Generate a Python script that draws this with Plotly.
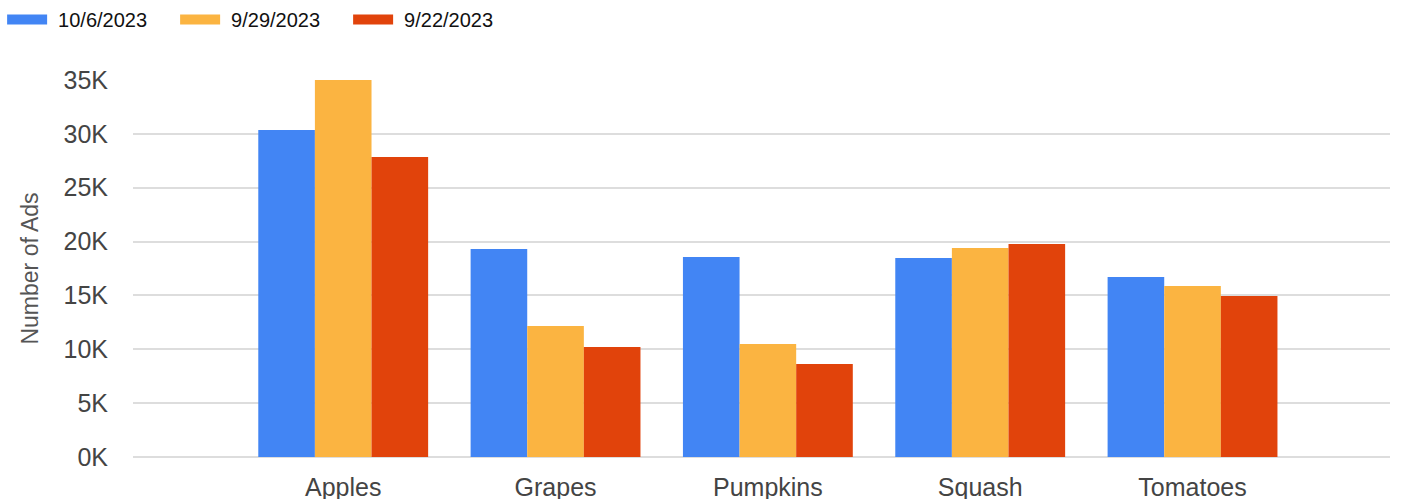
import plotly.graph_objects as go

categories = ["Apples", "Grapes", "Pumpkins", "Squash", "Tomatoes"]
series_names = ["10/6/2023", "9/29/2023", "9/22/2023"]
vals_oct6 = [30360, 19310, 18570, 18480, 16710]
vals_sep29 = [35000, 12160, 10490, 19410, 15880]
vals_sep22 = [27850, 10210, 8630, 19780, 14950]
colors = ["#4285F4", "#FBB441", "#E1430B"]
y_tickvals = [0, 5000, 10000, 15000, 20000, 25000, 30000, 35000]
y_ticktext = ["0K", "5K", "10K", "15K", "20K", "25K", "30K", "35K"]

fig = go.Figure()
for name, vals, col in zip(series_names, [vals_oct6, vals_sep29, vals_sep22], colors):
    fig.add_trace(go.Bar(x=categories, y=vals, name=name, marker=dict(color=col, line=dict(width=0)),
                         showlegend=False))
    # legend swatch (wide rectangle)
    fig.add_trace(go.Scatter(x=[None], y=[None], mode="lines", name=name,
                             line=dict(color=col, width=18, dash="40px,40px")))

fig.update_layout(
    width=1413, height=499,
    margin=dict(l=133, r=23, t=80, b=42),
    plot_bgcolor="white", paper_bgcolor="white",
    barmode="group", bargap=0.2, bargroupgap=0,
    font=dict(family="Liberation Sans, Arial, sans-serif", color="#444"),
    legend=dict(orientation="h", xref="container", yref="container", x=0.0015, y=1.0,
                xanchor="left", yanchor="top", font=dict(size=20, color="#111"),
                itemwidth=46, entrywidth=112, entrywidthmode="pixels",
                traceorder="normal", bgcolor="rgba(0,0,0,0)"),
    xaxis=dict(range=[-0.99, 4.93], showgrid=False, showline=False, zeroline=False,
               tickfont=dict(size=25, color="#444"), ticklabelstandoff=13, automargin=False),
    yaxis=dict(range=[0, 35000], tickvals=y_tickvals, ticktext=y_ticktext,
               showgrid=True, gridcolor="#DDDDDD", gridwidth=2,
               zeroline=True, zerolinecolor="#DDDDDD", zerolinewidth=2,
               showline=False, tickfont=dict(size=25, color="#444"),
               ticklabelstandoff=24, automargin=False,
               title=dict(text="Number of Ads", font=dict(size=23, color="#555"), standoff=18)),
)

fig.write_html("out.html", post_script="document.body.style.margin='0';",
               config={"displayModeBar": False})
